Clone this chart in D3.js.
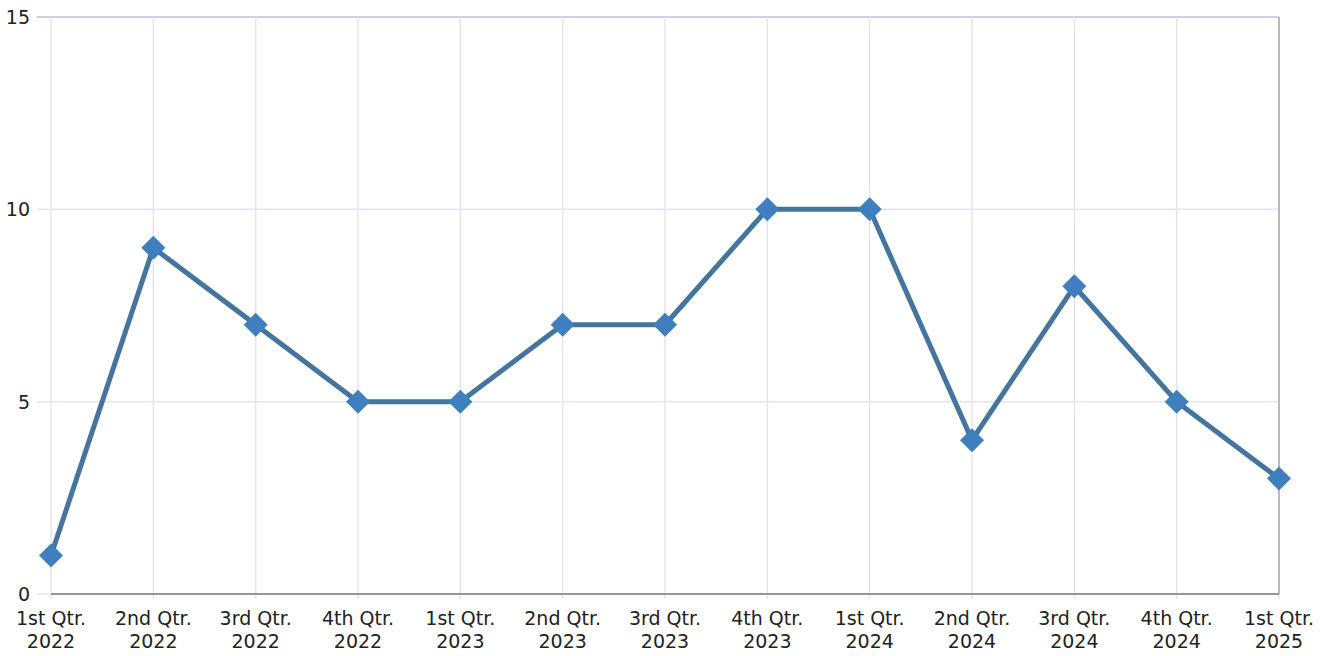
<!DOCTYPE html>
<html><head><meta charset="utf-8">
<script src="https://cdn.jsdelivr.net/npm/d3@7"></script>
<style>body{margin:0;background:#fff;} svg{display:block;} text{font-family:"DejaVu Sans",Verdana,sans-serif;}</style>
</head><body><svg id="c" width="1330" height="656"></svg>
<script>
const quarters = ["1st Qtr.","2nd Qtr.","3rd Qtr.","4th Qtr.","1st Qtr.","2nd Qtr.","3rd Qtr.","4th Qtr.","1st Qtr.","2nd Qtr.","3rd Qtr.","4th Qtr.","1st Qtr."];
const years = ["2022","2022","2022","2022","2023","2023","2023","2023","2024","2024","2024","2024","2025"];
const values = [1,9,7,5,5,7,7,10,10,4,8,5,3];
const yTicks = [0,5,10,15];

const svg = d3.select("#c");
const L=51, R=1279, T=17, B=594;
const x = d3.scalePoint().domain(d3.range(values.length)).range([L,R]);
const y = d3.scaleLinear().domain([0,15]).range([B,T]);

// horizontal grid
svg.append("g").selectAll("line").data(yTicks).join("line")
  .attr("x1",37).attr("x2",R).attr("y1",d=>y(d)).attr("y2",d=>y(d))
  .attr("stroke",d=>d===15?"#cfd0e6":"#e3e4f2").attr("stroke-width",d=>d===15?2:1.5);
// vertical grid
svg.append("g").selectAll("line").data(d3.range(values.length)).join("line")
  .attr("x1",d=>x(d)).attr("x2",d=>x(d)).attr("y1",T).attr("y2",B+5)
  .attr("stroke","#e3e4f2").attr("stroke-width",1.5);
// right border
svg.append("line").attr("x1",R).attr("x2",R).attr("y1",T).attr("y2",B)
  .attr("stroke","#a9a9b4").attr("stroke-width",1.5);
// bottom axis
svg.append("line").attr("x1",L).attr("x2",R).attr("y1",B).attr("y2",B)
  .attr("stroke","#7a7a82").attr("stroke-width",1.5);

// y labels
svg.append("g").selectAll("text").data(yTicks).join("text")
  .attr("x",30).attr("y",d=>y(d)).attr("dy","0.36em").attr("text-anchor","end")
  .attr("font-size",19).attr("fill","#222").text(d=>d);

// x labels
const xl = svg.append("g").selectAll("text").data(d3.range(values.length)).join("text")
  .attr("text-anchor","middle").attr("font-size",19).attr("fill","#222");
xl.append("tspan").attr("x",d=>x(d)).attr("y",625).text(d=>quarters[d]);
xl.append("tspan").attr("x",d=>x(d)).attr("y",648).text(d=>years[d]);

// line
svg.append("path").datum(values)
  .attr("d",d3.line().x((d,i)=>x(i)).y(d=>y(d)))
  .attr("fill","none").attr("stroke","#44759f").attr("stroke-width",5).attr("stroke-linejoin","round");

// diamonds
svg.append("g").selectAll("path").data(values).join("path")
  .attr("transform",(d,i)=>`translate(${x(i)},${y(d)})`)
  .attr("d","M0,-12L12,0L0,12L-12,0Z")
  .attr("fill","#3f7fbf");
</script></body></html>
